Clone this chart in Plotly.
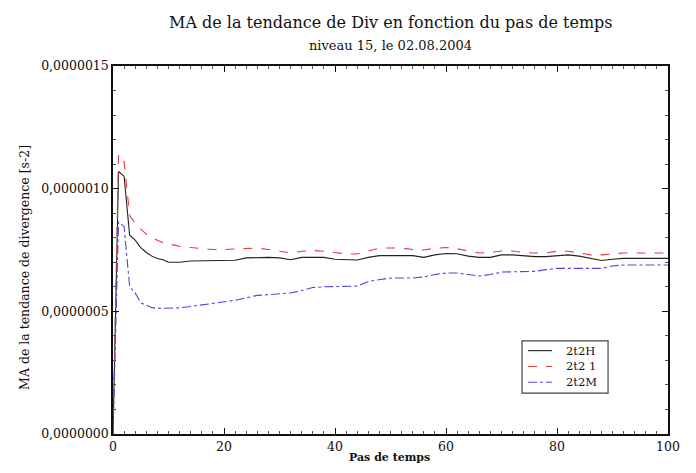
import plotly.graph_objects as go

steps = [0, 1, 2, 3, 4, 5, 6, 7, 8, 9, 10] + list(range(12, 101, 2))

s_2t2H = [0.0, 1.07, 1.05, 0.81, 0.79, 0.76, 0.74, 0.725, 0.715, 0.71, 0.70,
          0.70, 0.705, 0.705, 0.705, 0.705, 0.708, 0.718, 0.72, 0.72, 0.718,
          0.71, 0.72, 0.72, 0.72, 0.712, 0.709, 0.709, 0.72, 0.727, 0.727,
          0.727, 0.727, 0.72, 0.73, 0.736, 0.735, 0.725, 0.72, 0.72, 0.73,
          0.73, 0.725, 0.723, 0.723, 0.728, 0.73, 0.725, 0.715, 0.707, 0.712,
          0.716, 0.716, 0.716, 0.716, 0.716, 0.716]

s_2t2I = [0.0, 1.14, 1.11, 0.89, 0.86, 0.835, 0.815, 0.80, 0.79, 0.78, 0.775,
          0.765, 0.76, 0.755, 0.752, 0.752, 0.754, 0.754, 0.758, 0.752, 0.745,
          0.738, 0.745, 0.748, 0.745, 0.738, 0.734, 0.734, 0.745, 0.758, 0.758,
          0.758, 0.752, 0.75, 0.757, 0.76, 0.755, 0.745, 0.738, 0.74, 0.746,
          0.746, 0.74, 0.738, 0.738, 0.745, 0.745, 0.738, 0.73, 0.73, 0.735,
          0.738, 0.738, 0.738, 0.738, 0.738, 0.738]

s_2t2M = [0.0, 0.865, 0.845, 0.60, 0.575, 0.535, 0.525, 0.515, 0.512, 0.512, 0.512,
          0.514, 0.52, 0.526, 0.532, 0.538, 0.545, 0.555, 0.565, 0.568, 0.57,
          0.575, 0.585, 0.597, 0.60, 0.60, 0.60, 0.603, 0.622, 0.63, 0.636,
          0.636, 0.636, 0.64, 0.65, 0.656, 0.656, 0.65, 0.644, 0.65, 0.66,
          0.661, 0.661, 0.663, 0.67, 0.675, 0.675, 0.675, 0.675, 0.675, 0.685,
          0.689, 0.689, 0.689, 0.689, 0.689, 0.689]

names = ["2t2H", "2t2 1", "2t2M"]
ytick_vals = [0.0, 0.5e-6, 1.0e-6, 1.5e-6]
ytick_text = ["0,0000000", "0,0000005", "0,0000010", "0,0000015"]
xtick_vals = [0, 20, 40, 60, 80, 100]

font = "DejaVu Serif, serif"
ink = "#111111"

series = [
    (names[0], s_2t2H, "#222222", "solid"),
    (names[1], s_2t2I, "#e23b3b", "dash"),
    (names[2], s_2t2M, "#4a4ae0", "dashdot"),
]

fig = go.Figure()
for name, vals, color, dash in series:
    fig.add_trace(go.Scatter(
        x=steps, y=[v * 1e-6 for v in vals], mode="lines", name=name,
        line=dict(color=color, width=1.1, dash=dash), showlegend=False,
    ))

axis_common = dict(
    showgrid=False, zeroline=False, showline=True, linecolor=ink, automargin=False,
    linewidth=1.5, mirror="ticks", ticks="inside", ticklen=6, tickcolor=ink,
    tickfont=dict(family=font, size=12.5, color=ink),
)

fig.update_xaxes(
    range=[0, 100], tickvals=xtick_vals,
    minor=dict(ticks="inside", dtick=2, ticklen=3, tickcolor="#555555"),
    **axis_common,
)
fig.update_yaxes(
    range=[0, 1.5e-6], tickvals=ytick_vals, ticktext=ytick_text,
    minor=dict(ticks="inside", dtick=1e-7, ticklen=3, tickcolor="#555555"),
    **axis_common,
)

# Legend box (drawn as shapes + text to match the compact original legend)
lx0, lx1, ly0, ly1 = 0.737, 0.892, 0.111, 0.253
row_y = [0.2265, 0.1835, 0.1405]
shapes = [dict(type="rect", xref="paper", yref="paper", x0=lx0, x1=lx1, y0=ly0, y1=ly1,
               line=dict(color="#444444", width=1.2), fillcolor="white", layer="above")]
annotations = []
for (name, _, color, dash), ry in zip(series, row_y):
    shapes.append(dict(type="line", xref="paper", yref="paper", x0=0.7477, x1=0.791,
                       y0=ry, y1=ry, line=dict(color=color, width=1.1, dash=dash),
                       layer="above"))
    annotations.append(dict(text=name, x=0.8144, y=ry, xref="paper", yref="paper",
                            xanchor="left", yanchor="middle", showarrow=False,
                            borderpad=0,
                            font=dict(family=font, size=11.5, color=ink)))

annotations += [
    dict(text="MA de la tendance de Div en fonction du pas de temps",
         x=0.5, y=1, xref="paper", yref="paper", yshift=44, yanchor="middle",
         showarrow=False, font=dict(family=font, size=16, color=ink)),
    dict(text="niveau 15, le 02.08.2004",
         x=0.5, y=1, xref="paper", yref="paper", yshift=21, yanchor="middle",
         showarrow=False, font=dict(family=font, size=13, color=ink)),
    dict(text="MA de la tendance de divergence [s-2]",
         x=-0.1586, y=0.454, xref="paper", yref="paper", textangle=-90,
         xanchor="center", yanchor="middle", showarrow=False,
         font=dict(family=font, size=12.5, color=ink)),
    dict(text="<b>Pas de temps</b>",
         x=0.4975, y=-0.0832, xref="paper", yref="paper",
         xanchor="center", yanchor="bottom", showarrow=False, borderpad=0,
         font=dict(family=font, size=11, color=ink)),
]

# page body has an 8 px margin, so the figure is shrunk/offset to keep the
# plot area where it sits in the original picture
fig.update_layout(
    width=680, height=457,
    margin=dict(l=105, r=20, t=58, b=31),
    paper_bgcolor="white", plot_bgcolor="white",
    showlegend=False,
    shapes=shapes,
    annotations=annotations,
)

fig.write_html("out.html")
